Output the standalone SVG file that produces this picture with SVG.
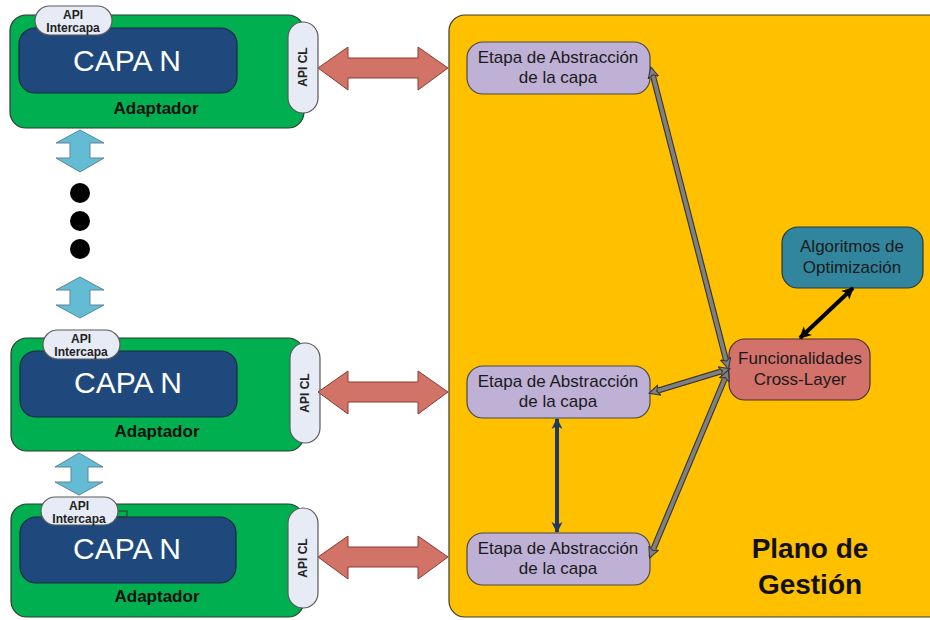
<svg xmlns="http://www.w3.org/2000/svg" width="930" height="620" viewBox="0 0 930 620">
  <style>
    .adapter { fill: #00b050; stroke: #2b3b2b; stroke-width: 1.2; }
    .capa { fill: #1f497d; stroke: #1a2a40; stroke-width: 1.2; }
    .pill { fill: #e6ebf5; stroke: #5a5a5a; stroke-width: 1.2; }
    .capa-t { font-family: "Liberation Sans", Arial, sans-serif; font-size: 30px; fill: #ffffff; text-anchor: middle; }
    .adapt-t { font-family: "Liberation Sans", Arial, sans-serif; font-size: 17px; font-weight: bold; fill: #111; text-anchor: middle; }
    .pill-t { font-family: "Liberation Sans", Arial, sans-serif; font-size: 12px; font-weight: bold; fill: #222; text-anchor: middle; }
    .vert { fill: #63bcd4; stroke: #5b8796; stroke-width: 1; }
    .horiz { fill: #d27368; stroke: #8b3a33; stroke-width: 1; }
    .panel { fill: #ffc000; stroke: #3a3a2a; stroke-width: 1.2; }
    .etapa { fill: #bfb0d6; stroke: #4a4a4a; stroke-width: 1.2; }
    .func { fill: #d3716b; stroke: #4a3030; stroke-width: 1.2; }
    .algo { fill: #31869e; stroke: #2a3a40; stroke-width: 1.2; }
    .node-t { font-family: "Liberation Sans", Arial, sans-serif; font-size: 17px; fill: #1a1a1a; text-anchor: middle; }
    .plano-t { font-family: "Liberation Sans", Arial, sans-serif; font-size: 28px; font-weight: bold; fill: #111; text-anchor: middle; }
    .gray-out { stroke: #333; stroke-width: 6; fill: none; }
    .gray-in { stroke: #808080; stroke-width: 3.8; fill: none; }
  </style>
  <defs>
    <marker id="gh" viewBox="0 0 12 12" refX="10" refY="6" markerWidth="12" markerHeight="12" markerUnits="userSpaceOnUse" orient="auto-start-reverse">
      <path d="M0,0.5 L11,6 L0,11.5 L3,6 z" fill="#808080" stroke="#333" stroke-width="1"/>
    </marker>
    <marker id="kh" viewBox="0 0 12 12" refX="10" refY="6" markerWidth="13" markerHeight="13" markerUnits="userSpaceOnUse" orient="auto-start-reverse">
      <path d="M0,0.5 L11,6 L0,11.5 L3,6 z" fill="#000"/>
    </marker>
    <marker id="bh" viewBox="0 0 12 12" refX="10" refY="6" markerWidth="12" markerHeight="12" markerUnits="userSpaceOnUse" orient="auto-start-reverse">
      <path d="M0,0.5 L11,6 L0,11.5 L3,6 z" fill="#1f3864"/>
    </marker>
  </defs>

  <!-- management plane -->
  <g id="plano-gestion">
    <rect class="panel" x="449" y="15" width="500" height="602" rx="16"/>
    <text class="plano-t" x="810" y="558">Plano de</text>
    <text class="plano-t" x="810" y="594">Gestión</text>
  </g>

  <!-- layer N (top) -->
  <g id="capa-top">
    <rect class="adapter" x="10" y="15" width="294" height="113" rx="16"/>
    <rect class="capa" x="19" y="28" width="218" height="65" rx="16"/>
    <text class="capa-t" x="127" y="71">CAPA N</text>
    <text class="adapt-t" x="156" y="114">Adaptador</text>
    <rect class="pill" x="35" y="6" width="77" height="29" rx="14.5"/>
    <text class="pill-t" x="73" y="19">API</text>
    <text class="pill-t" x="73" y="32">Intercapa</text>
    <rect class="pill" x="288" y="22" width="30" height="91" rx="15"/>
    <text class="pill-t" transform="translate(307,67) rotate(-90)">API CL</text>
  </g>

  <!-- layer N (middle) -->
  <g id="capa-mid">
    <rect class="adapter" x="11" y="338" width="293" height="113" rx="16"/>
    <rect class="capa" x="20" y="351" width="217" height="66" rx="16"/>
    <text class="capa-t" x="128" y="393">CAPA N</text>
    <text class="adapt-t" x="157" y="437">Adaptador</text>
    <rect class="pill" x="43" y="330" width="77" height="29" rx="14.5"/>
    <text class="pill-t" x="81" y="343">API</text>
    <text class="pill-t" x="81" y="356">Intercapa</text>
    <rect class="pill" x="290" y="343" width="30" height="100" rx="15"/>
    <text class="pill-t" transform="translate(309,393) rotate(-90)">API CL</text>
  </g>

  <!-- layer N (bottom) -->
  <g id="capa-bot">
    <rect class="adapter" x="11" y="504" width="293" height="113" rx="16"/>
    <rect class="capa" x="20" y="517" width="216" height="66" rx="16"/>
    <text class="capa-t" x="127" y="559">CAPA N</text>
    <text class="adapt-t" x="157" y="602">Adaptador</text>
    <rect x="117" y="511" width="10" height="6" fill="none" stroke="#2b3b2b" stroke-width="1"/>
    <rect class="pill" x="41" y="497" width="77" height="28" rx="14"/>
    <text class="pill-t" x="79" y="510">API</text>
    <text class="pill-t" x="79" y="523">Intercapa</text>
    <rect class="pill" x="288" y="508" width="30" height="100" rx="15"/>
    <text class="pill-t" transform="translate(307,558) rotate(-90)">API CL</text>
  </g>

  <!-- continuation dots -->
  <g id="puntos">
    <circle cx="80" cy="193" r="10" fill="#000"/>
    <circle cx="80" cy="221" r="10" fill="#000"/>
    <circle cx="80" cy="249" r="10" fill="#000"/>
  </g>

  <!-- abstraction stages -->
  <g id="etapa-top">
    <rect class="etapa" x="467" y="42" width="183" height="52" rx="16"/>
    <text class="node-t" x="558" y="63">Etapa de Abstracción</text>
    <text class="node-t" x="558" y="83">de la capa</text>
  </g>
  <g id="etapa-mid">
    <rect class="etapa" x="467" y="366" width="183" height="52" rx="16"/>
    <text class="node-t" x="558" y="387">Etapa de Abstracción</text>
    <text class="node-t" x="558" y="407">de la capa</text>
  </g>
  <g id="etapa-bot">
    <rect class="etapa" x="467" y="533" width="183" height="52" rx="16"/>
    <text class="node-t" x="558" y="554">Etapa de Abstracción</text>
    <text class="node-t" x="558" y="574">de la capa</text>
  </g>

  <g id="funcionalidades">
    <rect class="func" x="729" y="339" width="141" height="61" rx="16"/>
    <text class="node-t" x="800" y="364">Funcionalidades</text>
    <text class="node-t" x="800" y="385">Cross-Layer</text>
  </g>

  <g id="algoritmos">
    <rect class="algo" x="782" y="227" width="141" height="61" rx="16"/>
    <text class="node-t" x="852" y="252">Algoritmos de</text>
    <text class="node-t" x="852" y="273">Optimización</text>
  </g>

  <!-- connectors -->
  <g id="conectores">
    <!-- vertical inter-layer arrows -->
    <polygon class="vert" points="80,130 104,143 90,143 90,158 104,158 80,172 56,158 70,158 70,143 56,143"/>
    <polygon class="vert" points="80,277 104,290 90,290 90,305 104,305 80,318 56,305 70,305 70,290 56,290"/>
    <polygon class="vert" points="79,453 103,467 88,467 88,482 103,482 79,495 55,482 71,482 71,467 55,467"/>

    <!-- API CL to abstraction stage arrows -->
    <polygon class="horiz" points="318,68 348,47 348,58 418,58 418,47 448,68 418,90 418,78 348,78 348,90"/>
    <polygon class="horiz" points="318,392 348,371 348,382 418,382 418,371 448,392 418,414 418,402 348,402 348,414"/>
    <polygon class="horiz" points="318,557 348,536 348,547 418,547 418,536 448,557 418,579 418,567 348,567 348,579"/>

    <!-- cross-layer hub to stages: dark outline under a grey shaft -->
    <line class="gray-out" x1="725.8" y1="359.3" x2="653.2" y2="76.7"/>
    <line class="gray-out" x1="720.4" y1="371.6" x2="658.6" y2="390.4"/>
    <line class="gray-out" x1="724.5" y1="379.3" x2="653.5" y2="548.7"/>
    <line class="gray-in" x1="728" y1="368" x2="651" y2="68" marker-start="url(#gh)" marker-end="url(#gh)"/>
    <line class="gray-in" x1="729" y1="369" x2="650" y2="393" marker-start="url(#gh)" marker-end="url(#gh)"/>
    <line class="gray-in" x1="728" y1="371" x2="650" y2="557" marker-start="url(#gh)" marker-end="url(#gh)"/>

    <!-- optimisation link -->
    <line x1="800" y1="338" x2="853" y2="288" stroke="#000" stroke-width="4" marker-start="url(#kh)" marker-end="url(#kh)"/>

    <!-- stage to stage link -->
    <line x1="557" y1="419" x2="557" y2="532" stroke="#1f3864" stroke-width="4" marker-start="url(#bh)" marker-end="url(#bh)"/>
  </g>
</svg>
